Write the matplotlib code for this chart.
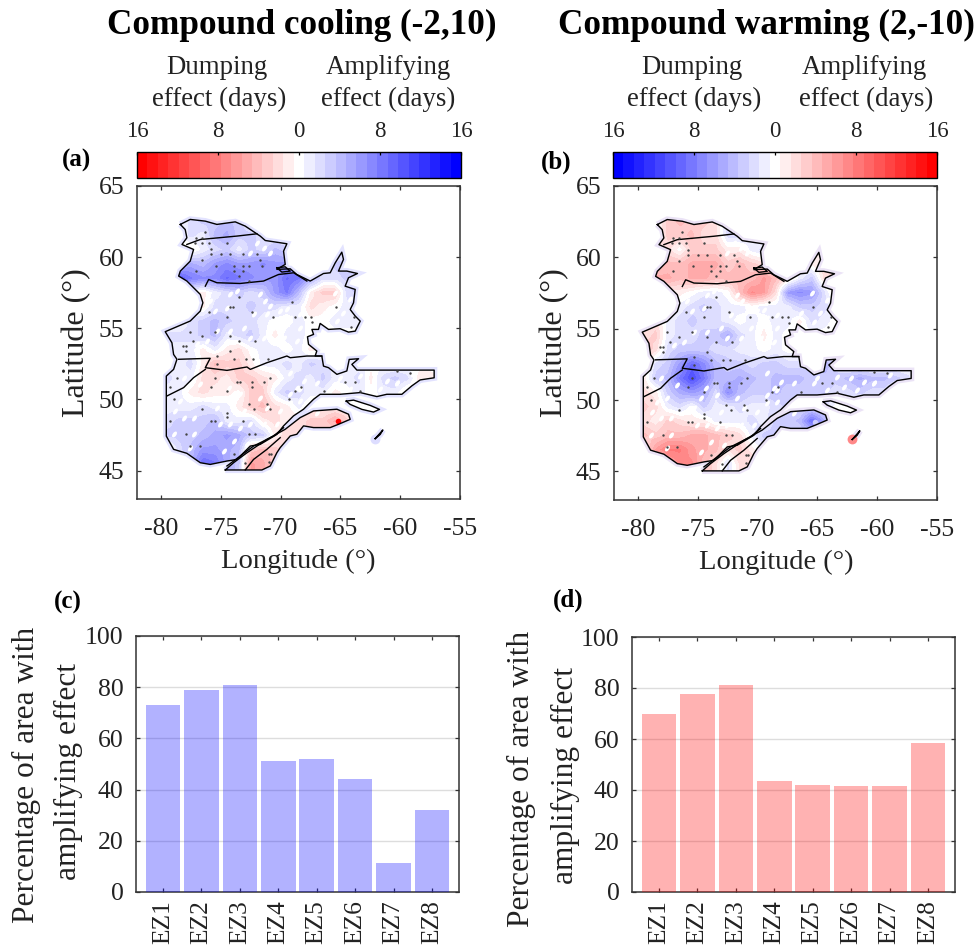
import matplotlib
matplotlib.use("Agg")
import matplotlib.pyplot as plt
import numpy as np
from matplotlib.colors import LinearSegmentedColormap, Normalize
from matplotlib.markers import MarkerStyle
from matplotlib.path import Path
from matplotlib.patches import PathPatch
from matplotlib.cm import ScalarMappable
from matplotlib.transforms import Affine2D

plt.rcParams['font.family'] = ['Liberation Serif', 'DejaVu Serif']
plt.rcParams['axes.unicode_minus'] = False

# bars
zones = ['EZ1', 'EZ2', 'EZ3', 'EZ4', 'EZ5', 'EZ6', 'EZ7', 'EZ8']
area_cooling = [73, 79, 81, 51, 52, 44, 11.5, 32]
area_warming = [70, 77.5, 81, 43.5, 42, 41.5, 41.5, 58.5]

# outlines, lon/lat
mainland = [(-78.38,62.30),(-77.55,62.65),(-76.29,62.53),(-75.32,62.30),(-73.79,62.48),(-72.95,62.18),(-71.70,61.48),
    (-71.28,61.17),(-69.47,60.94),(-69.75,60.42),(-69.61,59.49),(-70.31,59.14),(-69.19,59.18),(-68.64,58.78),(-67.52,58.32),
    (-66.41,58.85),(-65.85,58.90),(-65.43,59.60),(-64.88,60.35),(-64.74,59.84),(-65.16,59.02),(-64.46,59.02),(-63.57,58.85),
    (-64.32,58.55),(-64.60,57.96),(-63.76,57.73),(-63.90,56.79),(-64.18,56.32),(-63.76,55.86),(-63.34,55.50),(-63.76,54.80),
    (-64.32,54.73),(-65.02,54.97),(-65.99,54.92),(-66.69,55.34),(-66.83,54.92),(-67.38,54.92),(-67.24,54.57),(-67.75,54.40),
    (-67.66,53.87),(-66.97,53.40),(-67.11,53.05),(-66.55,53.05),(-66.41,52.34),(-65.99,52.23),(-65.29,51.76),(-64.46,52.0),
    (-64.26,52.81),(-63.48,52.86),(-64.04,52.46),(-63.62,52.06),(-57.16,52.06),(-57.16,51.52),(-58.33,51.37),(-59.03,50.95),
    (-59.86,50.36),(-61.12,50.36),(-61.95,50.20),(-63.34,50.48),(-65.02,50.36),(-66.69,50.36),(-67.24,50.01),(-68.08,49.31),
    (-68.92,48.84),(-69.75,48.14),(-70.31,47.54),(-71.70,46.84),(-72.53,46.72),(-73.65,45.78),(-74.48,45.67),(-75.88,45.43),
    (-76.71,45.55),(-77.83,46.21),(-78.94,46.49),(-79.55,47.42),(-79.55,51.64),(-78.94,52.11),(-78.66,52.82),(-78.94,53.16),
    (-79.08,53.98),(-79.64,54.76),(-77.55,55.51),(-76.71,56.21),(-76.49,56.79),(-76.71,57.38),(-77.83,58.32),(-78.52,58.67),
    (-78.38,59.02),(-77.55,59.72),(-77.27,60.54),(-78.24,60.89),(-77.83,61.36),(-77.97,61.94)]
south_shore = [(-74.62,45.04),(-73.93,45.55),(-72.81,46.25),(-71.14,47.19),(-69.61,47.90),(-68.36,48.72),(-67.24,49.19),
    (-65.29,49.31),(-64.32,48.96),(-64.18,48.60),(-65.16,48.25),(-65.85,48.02),(-67.24,48.02),(-68.08,48.14),(-68.64,47.55),
    (-69.19,47.43),(-70.03,46.61),(-70.31,46.25),(-70.86,45.32),(-71.56,45.04)]
anticosti = [(-64.51,49.88),(-63.90,49.95),(-62.51,49.58),(-61.73,49.30),(-62.23,49.11),(-63.20,49.30),(-64.18,49.65)]
lake = [(-70.31,59.25),(-69.61,59.32),(-69.19,59.02),(-69.89,58.95)]
magdalen = [(-62.09,47.24),(-61.67,47.54),(-61.45,47.85)]
border_lines = [
    [(-77.83,60.89),(-76.71,61.24),(-73.65,61.48),(-71.98,61.64)],
    [(-76.29,57.96),(-76.01,58.43),(-75.32,58.20),(-73.37,58.15),(-71.42,58.32),(-70.17,58.78),(-68.91,58.90),(-67.80,58.32)],
    [(-78.52,52.82),(-75.88,52.89),(-76.29,52.23),(-74.48,52.04),(-72.81,52.28),(-72.53,52.11),(-71.14,52.58),(-69.47,53.05),
     (-69.19,52.93),(-67.80,53.05),(-66.55,53.05)],
    [(-79.50,50.24),(-78.10,50.83),(-77.27,51.53),(-76.29,52.11)],
    [(-74.48,45.32),(-73.37,46.02),(-72.26,46.72),(-70.59,47.42),(-69.75,48.01)],
    [(-72.95,45.04),(-72.26,45.78),(-71.14,46.49),(-70.03,47.31)],
]

# significance dots, lon/lat
stip_lon = [-76.30,-77.05,-76.57,-77.13,-76.57,-76.02,-74.48,-75.79,-75.79,-74.99,-74.21,-73.18,-71.98,-71.70,-76.57,
    -75.38,-73.93,-73.18,-72.67,-71.56,-77.05,-73.93,-73.18,-73.51,-72.67,-73.45,-69.05,-74.26,-73.98,-65.35,-76.02,
    -72.40,-74.48,-70.59,-68.77,-67.99,-67.47,-63.90,-67.38,-64.12,-77.60,-75.52,-76.57,-74.21,-77.35,-78.19,-77.88,
    -73.45,-72.12,-77.88,-74.21,-75.32,-73.93,-72.87,-72.31,-71.09,-75.32,-78.66,-75.52,-73.65,-73.37,-72.40,-71.36,
    -70.86,-64.60,-63.76,-79.22,-75.82,-72.40,-68.77,-68.27,-66.41,-63.34,-78.94,-74.48,-76.57,-72.67,-71.14,-69.33,
    -70.86,-72.26,-74.48,-74.48,-75.79,-75.52,-73.15,-79.22,-77.88,-72.62,-72.12,-77.60,-76.77,-73.93,-71.00,-70.81,
    -72.95,-71.00,-59.16,-60.28]
stip_lat = [61.78,61.36,61.36,61.01,61.01,61.01,61.01,60.54,60.19,60.19,60.19,60.19,60.19,59.77,59.77,
    59.41,59.41,59.41,59.41,59.41,59.02,59.02,59.02,58.67,58.31,57.21,56.84,56.49,56.49,56.49,56.14,
    56.14,55.81,55.81,55.81,55.81,55.81,55.81,55.43,55.11,54.75,54.75,54.45,54.45,54.10,53.75,53.75,
    54.10,54.10,53.40,53.40,53.04,52.81,52.81,52.81,52.81,52.46,51.52,51.52,51.22,51.22,51.22,51.22,
    51.52,51.22,51.22,50.89,50.89,50.89,50.59,50.89,50.59,50.59,50.0,50.59,49.30,49.65,49.65,50.0,
    49.30,49.30,49.06,48.78,48.48,48.48,48.48,48.48,47.54,47.54,47.54,46.72,46.72,46.14,46.14,46.14,
    45.55,45.60,51.87,51.99]

# cells with no effect among the coloured ones
fleck_lon = [-71.98,-71.42,-70.86,-72.53,-71.70,-71.28,-70.86,-72.26,-74.20,-73.65,-75.88,-75.46,-74.48,-71.14,-70.03,-70.58,
    -69.19,-68.36,-73.09,-74.20,-75.32,-76.15,-76.99,-72.53,-71.42,-69.75,-68.63,-69.47,-68.36,-66.41,-65.43,-65.29,-64.74,
    -64.18,-69.19,-69.61,-63.34,-62.23,-61.12,-65.02,-69.19,-68.08,-60.28,-58.05,-58.89,-78.10,-78.38,-78.80,-77.55,-76.71,
    -77.27,-74.76,-75.32,-74.34,-73.09,-73.37,-71.70,-71.14,-70.03,-69.19,-68.36,-72.53,-73.37,-71.42,-74.20,-75.04,-78.10,
    -78.94,-77.27,-73.93,-72.81,-74.76,-70.31,-68.63,-77.55,-66.97,-68.36,-65.29,-64.18,-62.79,-60.28,-61.67,-69.19,-66.97]
fleck_lat = [61.01,60.66,60.31,60.31,57.38,56.91,56.56,55.97,57.38,57.61,56.91,56.21,56.44,55.97,56.21,55.04,
    55.74,55.04,55.04,54.80,54.80,54.10,53.87,54.33,54.33,54.33,54.10,56.32,55.97,56.09,57.50,55.50,56.09,
    57.03,55.50,53.75,51.64,51.52,51.29,51.52,51.87,51.29,51.17,51.29,51.76,51.53,49.89,49.19,50.12,51.06,
    48.72,50.12,49.42,50.83,49.19,50.36,50.12,49.42,49.19,50.36,49.89,48.25,48.02,48.25,48.25,48.25,48.72,
    47.55,47.55,47.08,46.84,46.38,48.25,50.83,46.61,51.18,50.71,51.18,50.71,50.95,51.18,50.71,49.78,49.07]

# effect in days, amplifying positive, 1 degree cells, lon -80..-56, top row 62.5N
effect_cooling = [
 [0,0,2,3,3,4,3,1,0,0,0,0,0,0,0,0,0,0,0,0,0,0,0,0],
 [0,0,2,1,4,5,3,3,2,1,1,0,0,0,0,0,0,0,0,0,0,0,0,0],
 [0,0,-1,1,2,3,1,3,2,4,3,0,0,0,0,2,0,0,0,0,0,0,0,0],
 [0,4,5,4,6,7,6,6,7,6,6,6,0,0,3,3,0,0,0,0,0,0,0,0],
 [0,10,8,7,7,9,8,7,6,6,9,8,5,2,2,3,4,0,0,0,0,0,0,0],
 [0,0,0,-1,1,2,3,2,3,6,8,4,-1,-3,-3,2,3,0,0,0,0,0,0,0],
 [0,0,0,-1,2,2,2,3,2,2,1,1,-2,-1,0,1,2,0,0,0,0,0,0,0],
 [0,0,2,3,4,3,2,2,1,0,0,1,0,0,1,1,1,0,0,0,0,0,0,0],
 [2,2,2,3,4,1,2,3,1,-1,1,1,0,0,0,0,0,0,0,0,0,0,0,0],
 [1,1,1,-1,1,-1,-2,0,1,1,0,1,-1,0,0,0,0,0,0,0,0,0,0,0],
 [1,1,2,-1,-4,-3,-3,-1,1,1,2,1,3,2,1,1,1,0,0,0,0,0,0,0],
 [2,1,1,-2,-2,-1,-3,-3,-2,-1,1,2,1,3,1,1,2,-1,2,3,2,-1,-1,0],
 [1,1,-1,-2,-1,-1,0,-3,-3,1,3,2,1,1,-1,0,1,0,1,1,-1,0,0,0],
 [1,1,1,2,1,1,-1,-3,-4,-2,-1,1,-1,-1,-1,-1,0,0,0,0,0,0,0,0],
 [2,3,3,3,4,1,1,2,-1,-2,-1,-2,-3,-3,-5,-3,0,0,0,0,0,0,0,0],
 [3,3,3,4,5,6,5,3,3,-1,-2,-2,-3,-2,-2,0,0,0,0,0,0,0,0,0],
 [-1,2,4,6,6,5,4,-3,-4,-3,-2,0,0,0,0,0,0,0,0,0,0,0,0,0],
 [0,0,4,9,8,5,3,-6,-5,-3,0,0,0,0,0,0,0,0,0,0,0,0,0,0],
]
effect_warming = [
 [0,0,3,4,3,3,2,-3,-1,0,0,0,0,0,0,0,0,0,0,0,0,0,0,0],
 [0,0,3,3,4,2,2,-2,-2,-1,0,0,0,0,0,0,0,0,0,0,0,0,0,0],
 [2,2,2,0,3,3,3,1,1,-1,-2,0,0,0,0,1,0,0,0,0,0,0,0,0],
 [3,3,4,4,5,5,5,3,4,3,2,2,0,0,1,2,0,0,0,0,0,0,0,0],
 [3,5,5,4,5,5,4,4,4,4,6,4,2,-1,-3,2,2,0,0,0,0,0,0,0],
 [0,0,1,1,0,-1,-1,0,4,7,6,2,-6,-7,-6,-2,2,0,0,0,0,0,0,0],
 [0,0,0,-1,-2,-3,-2,-1,-1,0,-1,-1,-1,-3,-3,-2,-1,0,0,0,0,0,0,0],
 [0,2,-1,-2,-3,-2,-2,-1,0,-1,0,-1,-1,1,-2,-1,0,0,0,0,0,0,0,0],
 [2,3,-1,-2,-2,-3,-3,-5,-2,-1,1,-1,0,0,0,0,0,0,0,0,0,0,0,0],
 [4,2,-2,-3,-3,-3,-2,-2,-1,-1,0,-1,0,0,0,0,0,0,0,0,0,0,0,0],
 [2,-2,-3,-6,-9,-7,-4,-3,-3,-2,-3,-3,-2,-2,-2,-5,-2,0,0,0,0,0,0,0],
 [1,-3,-4,-8,-11,-8,-4,-4,-5,-4,-3,-4,-4,-4,-3,-3,-3,-4,-5,-4,-4,-3,-2,0],
 [2,1,-3,-5,-6,-5,-2,-7,-4,-3,-3,-4,-3,-3,-3,-3,-2,-2,-3,-2,-2,0,0,0],
 [3,2,-1,-2,0,-3,-1,-1,-2,-1,-1,-2,-3,-2,-2,-2,0,0,0,0,0,0,0,0],
 [2,1,3,2,1,1,-1,-1,-1,-2,-1,-3,-3,-4,-9,-5,0,0,0,0,0,0,0,0],
 [4,3,4,4,5,5,4,3,2,-1,-3,-3,-2,-2,-2,0,0,0,0,0,0,0,0,0],
 [1,6,8,8,6,5,4,2,3,1,-1,0,0,0,0,0,0,0,0,0,0,0,0,0],
 [0,0,5,7,7,4,2,-2,2,3,0,0,0,0,0,0,0,0,0,0,0,0,0,0],
]
# single strong cells that the coarse grid cannot hold
spot_lon = [-62.1, -65.2]
spot_lat = [47.25, 48.5]
spot_cooling = [2, -16]
spot_warming = [7, -3]


W, H = 978.0, 948.0
fig = plt.figure(figsize=(9.78, 9.48), dpi=100)


def box(x0, y0, x1, y1):
    return fig.add_axes([x0 / W, 1 - y1 / H, (x1 - x0) / W, (y1 - y0) / H])


def label(x, y, s, **kw):
    fig.text(x / W, 1 - y / H, s, ha='center', va='center', **kw)


def style(ax):
    for s in ax.spines.values():
        s.set_color('#333333')
        s.set_linewidth(1.1)
    ax.tick_params(direction='in', top=True, right=True, length=3, width=0.9,
                   color='#333333', labelcolor='#222222', labelsize=18.5, pad=9)


red_blue = LinearSegmentedColormap.from_list('rb', ['#ff0000', '#ffffff', '#0000ff'], N=31)
blue_red = LinearSegmentedColormap.from_list('br', ['#0000ff', '#ffffff', '#ff0000'], N=31)
days = Normalize(-16, 16)
fleck_mark = MarkerStyle('o', transform=Affine2D().scale(0.55, 1).rotate_deg(-35))


def map_panel(pos, effect, cmap, spots, halo_col):
    ax = box(*pos)
    polys = [mainland, south_shore, anticosti, lake, magdalen]
    region = Path.make_compound_path(*[Path(np.array(p + [p[0]])) for p in polys])
    ax.add_patch(PathPatch(region, fc='none', ec=halo_col, lw=4.5, zorder=1))
    im = ax.imshow(np.array(effect, float), extent=[-80, -56, 45, 63], origin='upper', aspect='auto',
                   cmap=cmap, norm=days, interpolation='bilinear', zorder=2)
    clip = PathPatch(region, fc='none', ec='none', transform=ax.transData)
    ax.add_patch(clip)
    im.set_clip_path(clip)
    fl = ax.scatter(fleck_lon, fleck_lat, s=24, color='white', marker=fleck_mark, lw=0, zorder=2.5)
    fl.set_clip_path(clip)
    ax.scatter(spot_lon[:1], spot_lat[:1], s=50, c=spots[:1], cmap=cmap, norm=days, zorder=2, lw=0)
    ax.scatter(spot_lon[1:], spot_lat[1:], s=16, c=spots[1:], cmap=cmap, norm=days, zorder=2.6, lw=0)
    for p in polys:
        a = np.array(p + [p[0]])
        ax.plot(a[:, 0], a[:, 1], color='black', lw=1.0, zorder=3)
    for p in border_lines:
        a = np.array(p)
        ax.plot(a[:, 0], a[:, 1], color='black', lw=1.0, zorder=3)
    ax.scatter(stip_lon, stip_lat, s=3, color='#444444', lw=0, zorder=4)
    ax.set_xlim(-82, -55)
    ax.set_ylim(43, 65)
    ax.set_xticks([-80, -75, -70, -65, -60, -55])
    ax.set_yticks([45, 50, 55, 60, 65])
    style(ax)
    ax.tick_params(axis='x', pad=14)
    return ax


def cbar(pos, cmap):
    cax = box(*pos)
    cb = fig.colorbar(ScalarMappable(days, cmap), cax=cax, orientation='horizontal')
    cb.set_ticks([-16, -8, 0, 8, 16])
    cb.set_ticklabels(['16', '8', '0', '8', '16'])
    cb.outline.set_linewidth(1)
    cax.xaxis.set_ticks_position('top')
    cax.tick_params(direction='in', length=2.5, width=0.9, labelsize=16.5, labelcolor='#222222', pad=7)


def bar_panel(pos, vals, col):
    ax = box(*pos)
    ax.set_axisbelow(True)
    ax.yaxis.grid(True, color='#dddddd', lw=1)
    ax.bar(range(1, 9), vals, width=0.9, color=col, zorder=3)
    ax.set_xlim(0.3, 8.7)
    ax.set_ylim(0, 100)
    ax.set_xticks(range(1, 9))
    ax.set_xticklabels(zones, rotation=90)
    ax.set_yticks([0, 20, 40, 60, 80, 100])
    style(ax)
    ax.tick_params(axis='x', pad=6, labelsize=18.3)


map_panel((137, 186, 460, 499), effect_cooling, red_blue, spot_cooling, '#e3e3ff')
map_panel((614, 186, 937, 500), effect_warming, blue_red, spot_warming, '#ebe3f6')
cbar((137, 152, 461, 178), red_blue)
cbar((613, 152, 937, 178), blue_red)
bar_panel((136, 636, 459, 892), area_cooling, (0, 0, 1, 0.3))
bar_panel((632, 637, 955, 892), area_warming, (1, 0, 0, 0.3))

label(302, 25, 'Compound cooling (-2,10)', fontsize=25.3, fontweight='bold')
label(766, 25, 'Compound warming (2,-10)', fontsize=25.3, fontweight='bold')
for cx, s1, s2 in [(217, 'Dumping', 219), (388, 'Amplifying', 388), (692, 'Dumping', 694), (864, 'Amplifying', 866)]:
    label(cx, 68, s1, fontsize=19.4, color='#222222')
    label(s2, 99, 'effect (days)', fontsize=19.4, color='#222222')
label(77, 343, 'Latitude (°)', fontsize=23, rotation=90, color='#222222')
label(555, 343, 'Latitude (°)', fontsize=23, rotation=90, color='#222222')
label(298, 561, 'Longitude (°)', fontsize=20.5, color='#222222')
label(776, 562, 'Longitude (°)', fontsize=20.5, color='#222222')
label(26, 775, 'Percentage of area with', fontsize=22.6, rotation=90, color='#222222')
label(68, 772, 'amplifying effect', fontsize=22.6, rotation=90, color='#222222')
label(521, 779, 'Percentage of area with', fontsize=22.6, rotation=90, color='#222222')
label(565, 776, 'amplifying effect', fontsize=22.6, rotation=90, color='#222222')
label(77, 160, '(a)', fontsize=18, fontweight='bold')
label(556, 162, '(b)', fontsize=18, fontweight='bold')
label(68, 602, '(c)', fontsize=18, fontweight='bold')
label(568, 600, '(d)', fontsize=18, fontweight='bold')

fig.savefig('out.png', dpi=100)
